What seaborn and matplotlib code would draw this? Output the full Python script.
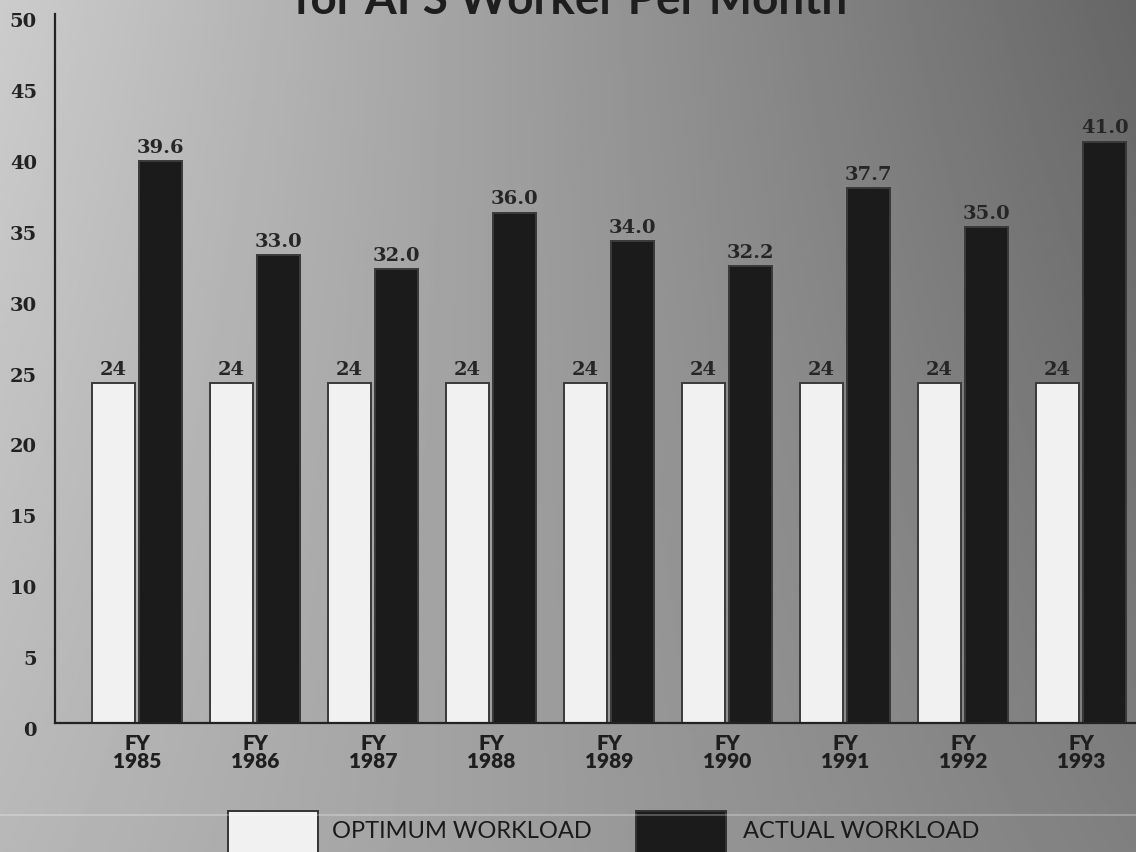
import numpy as np
import pandas as pd
import matplotlib
matplotlib.use("Agg")
import matplotlib.pyplot as plt
import seaborn as sns
from matplotlib.patches import Rectangle
from matplotlib.lines import Line2D
from matplotlib.transforms import ScaledTranslation

# Caseload data, fiscal years 1985-1993
years = ["1985", "1986", "1987", "1988", "1989", "1990", "1991", "1992", "1993"]
optimum = [24, 24, 24, 24, 24, 24, 24, 24, 24]
actual = [39.6, 33.0, 32.0, 36.0, 34.0, 32.2, 37.7, 35.0, 41.0]
series = ["OPTIMUM WORKLOAD", "ACTUAL WORKLOAD"]
tick_labels = [f"FY\n{y}" for y in years]
y_ticks = [0, 5, 10, 15, 20, 25, 30, 35, 40, 45, 50]
title = "for AFS Worker Per Month"

df = pd.DataFrame({
    "year": years * 2,
    "value": optimum + actual,
    "series": [series[0]] * len(years) + [series[1]] * len(years),
})

sns.set_style("white")
plt.rcParams["font.family"] = ["Lato", "DejaVu Sans"]
NUM_FONT = "DejaVu Serif"

W, H = 1136, 852
fig = plt.figure(figsize=(W / 100, H / 100), dpi=100)

# Gray gradient backdrop: light at upper left, darker toward the right
bg = fig.add_axes([0, 0, 1, 1], zorder=-10)
xx, yy = np.meshgrid(np.linspace(0, 1, 300), np.linspace(0, 1, 300))
tl, tr, bl, br = 0.80, 0.40, 0.72, 0.50
grad = (tl * (1 - xx) * (1 - yy) + tr * xx * (1 - yy)
        + bl * (1 - xx) * yy + br * xx * yy)
bg.imshow(grad, cmap="gray", vmin=0, vmax=1, extent=[0, 1, 0, 1],
          aspect="auto", origin="upper")
bg.set_axis_off()

# Plot area
ax = fig.add_axes([55 / W, 1 - 723 / H, 1 - 55 / W, 709 / H])
ax.patch.set_alpha(0)

colors = ["#f1f1f1", "#1b1b1b"]
sns.barplot(data=df, x="year", y="value", hue="series", hue_order=series,
            palette=colors, edgecolor="#3a3a3a", linewidth=1.4,
            width=0.8, gap=0.1, saturation=1, legend=False, ax=ax)

ax.set_xlim(-0.695, 8.466)
ax.set_ylim(0, 50)
ax.set_xlabel("")
ax.set_ylabel("")

# Value labels above each bar
for container, fmt in zip(ax.containers, ["%.0f", "%.1f"]):
    ax.bar_label(container, fmt=fmt, padding=3, fontsize=14,
                 fontfamily=NUM_FONT, fontweight="bold",
                 color="#262626")

# Axes styling
for side in ["top", "right"]:
    ax.spines[side].set_visible(False)
for side in ["left", "bottom"]:
    ax.spines[side].set_color("#222222")
    ax.spines[side].set_linewidth(1.6)

ax.set_yticks(y_ticks)
ax.tick_params(axis="y", direction="in", length=19, width=1.6,
               color="#222222", pad=13, labelsize=14, labelcolor="#222222")
for lab in ax.get_yticklabels():
    lab.set_fontfamily(NUM_FONT)
    lab.set_fontweight("bold")
    lab.set_transform(lab.get_transform()
                      + ScaledTranslation(0, -6 / 100, fig.dpi_scale_trans))

ax.set_xticks(range(len(years)), tick_labels)
ax.set_xticks(np.arange(0.5, len(years) - 1, 1.0), minor=True)
ax.tick_params(axis="x", which="major", length=0, pad=8, labelsize=15,
               labelcolor="#1e1e1e")
ax.tick_params(axis="x", which="minor", direction="in", length=11,
               width=1.3, color="#222222")
for lab in ax.get_xticklabels():
    lab.set_fontweight("heavy")
    lab.set_linespacing(0.95)

# Title (upper line runs off the top edge)
fig.text(571 / W, 1 - 14 / H, title, ha="center", va="baseline",
         fontsize=33, fontweight="bold", color="#1e1e1e")

# Faint light band above the legend
fig.add_artist(Line2D([0, 1], [1 - 815 / H, 1 - 815 / H], color="white",
                      alpha=0.25, linewidth=1.5, transform=fig.transFigure))

# Legend along the bottom edge
legend_items = [(228, 332, colors[0], series[0]),
                (636, 743, colors[1], series[1])]
for box_x, text_x, col, name in legend_items:
    fig.add_artist(Rectangle((box_x / W, -0.01), 90 / W, (H - 811) / H + 0.01,
                             facecolor=col, edgecolor="#333333",
                             linewidth=1.4, transform=fig.transFigure))
    fig.text(text_x / W, 1 - 832 / H, name, ha="left", va="center",
             fontsize=17, color="#1a1a1a")

fig.savefig("out.png", dpi=100)
